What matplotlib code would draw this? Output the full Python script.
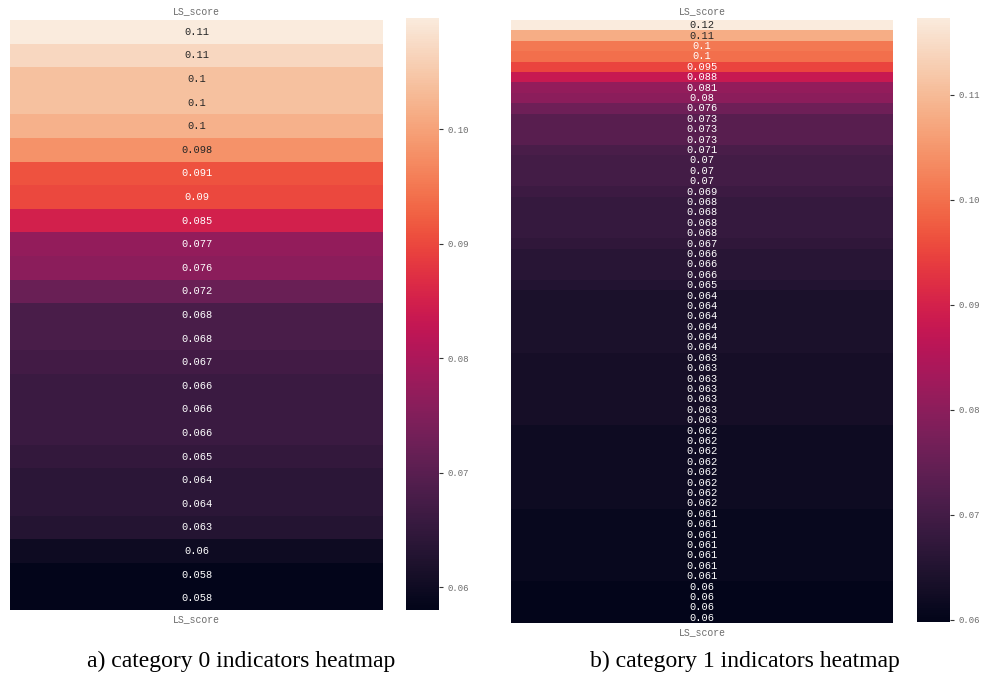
import matplotlib
matplotlib.use("Agg")
import matplotlib.pyplot as plt
import seaborn as sns
import pandas as pd

# LS_score per indicator (sorted high -> low)
cat0_scores = [0.1097, 0.107, 0.104, 0.104, 0.102, 0.098, 0.091, 0.090, 0.085,
               0.077, 0.076, 0.072, 0.068, 0.068, 0.067, 0.066, 0.066, 0.066,
               0.065, 0.064, 0.064, 0.063, 0.060, 0.058, 0.058]
cat1_scores = [0.1173, 0.108, 0.101, 0.100, 0.095, 0.088, 0.081, 0.080, 0.076,
               0.073, 0.073, 0.073, 0.071, 0.070, 0.070, 0.070, 0.069,
               0.068, 0.068, 0.068, 0.068, 0.067, 0.066, 0.066, 0.066, 0.065,
               0.064, 0.064, 0.064, 0.064, 0.064, 0.064,
               0.063, 0.063, 0.063, 0.063, 0.063, 0.063, 0.063,
               0.062, 0.062, 0.062, 0.062, 0.062, 0.062, 0.062, 0.062,
               0.061, 0.061, 0.061, 0.061, 0.061, 0.061, 0.061,
               0.060, 0.060, 0.060, 0.0598]
col_name = "LS_score"
captions = ["a) category 0 indicators heatmap", "b) category 1 indicators heatmap"]

mono = "Liberation Mono"
gray = "#6b6b6b"

fig = plt.figure(figsize=(9.84, 6.76), dpi=100)

panels = [
    (cat0_scores, [0.0102, 0.0976, 0.379, 0.8728], [0.4126, 0.0976, 0.0335, 0.8758], 0.245),
    (cat1_scores, [0.5193, 0.0784, 0.3882, 0.8920], [0.9319, 0.0799, 0.0335, 0.8935], 0.757),
]

for i, (scores, hm_pos, cb_pos, cap_x) in enumerate(panels):
    df = pd.DataFrame({col_name: scores})
    ax = fig.add_axes(hm_pos)
    cax = fig.add_axes(cb_pos)
    sns.heatmap(df, ax=ax, cbar_ax=cax, cmap="rocket", annot=True,
                yticklabels=False,
                annot_kws={"fontsize": 7.5, "family": mono})
    ax.tick_params(axis="x", length=0, labelsize=7, labelcolor=gray,
                   top=True, labeltop=True, pad=3)
    for lab in ax.get_xticklabels():
        lab.set_family(mono)
    cax.tick_params(length=3, width=0.8, labelsize=6.5, labelcolor=gray, color="#333333")
    for lab in cax.get_yticklabels():
        lab.set_family(mono)
    fig.text(cap_x, 0.021, captions[i], ha="center", va="center",
             fontsize=17, family="Liberation Serif")

fig.savefig("out.png", dpi=100)
